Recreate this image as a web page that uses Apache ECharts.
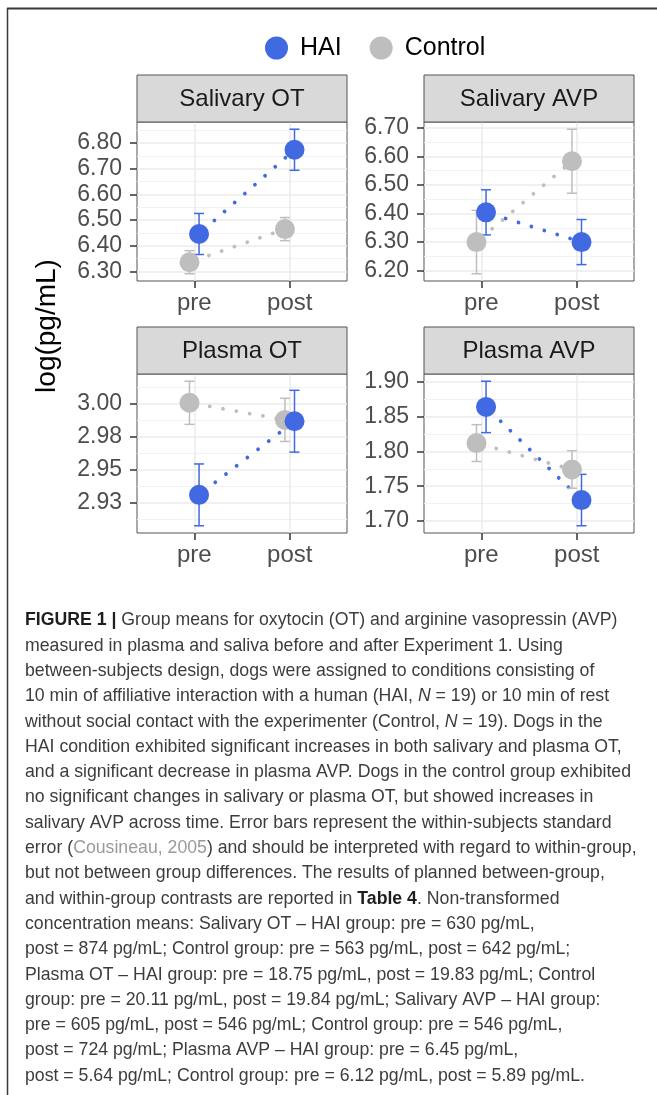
<!DOCTYPE html>
<html><head><meta charset="utf-8">
<script src="https://cdn.jsdelivr.net/npm/echarts@6/dist/echarts.min.js"></script>
<style>html,body{margin:0;padding:0;background:#fff;}#c{width:657px;height:1095px;}</style>
</head><body><div id="c"></div>
<script>
// ---- data ----
const categories = ['pre', 'post'];
const panelNames = ['Salivary OT', 'Salivary AVP', 'Plasma OT', 'Plasma AVP'];
const groupNames = ['HAI', 'Control'];
const haiMean = [[6.446, 6.774], [6.404, 6.300], [2.931, 2.987], [1.864, 1.730]];
const haiSE   = [[0.080, 0.080], [0.079, 0.079], [0.0235, 0.0235], [0.037, 0.037]];
const ctlMean = [[6.336, 6.465], [6.300, 6.583], [3.001, 2.988], [1.812, 1.774]];
const ctlSE   = [[0.045, 0.045], [0.111, 0.112], [0.0164, 0.0164], [0.0265, 0.027]];
const yTicks = [
  [6.3, 6.4, 6.5, 6.6, 6.7, 6.8],
  [6.2, 6.3, 6.4, 6.5, 6.6, 6.7],
  [2.925, 2.95, 2.975, 3.0],
  [1.70, 1.75, 1.80, 1.85, 1.90]
];
const yTickLabels = [
  ['6.30', '6.40', '6.50', '6.60', '6.70', '6.80'],
  ['6.20', '6.30', '6.40', '6.50', '6.60', '6.70'],
  ['2.93', '2.95', '2.98', '3.00'],
  ['1.70', '1.75', '1.80', '1.85', '1.90']
];
const yTitle = 'log(pg/mL)';
const captionLines = [
  '{b|FIGURE 1 |} Group means for oxytocin (OT) and arginine vasopressin (AVP)',
  'measured in plasma and saliva before and after Experiment 1. Using',
  'between-subjects design, dogs were assigned to conditions consisting of',
  '10 min of affiliative interaction with a human (HAI, {i|N} = 19) or 10 min of rest',
  'without social contact with the experimenter (Control, {i|N} = 19). Dogs in the',
  'HAI condition exhibited significant increases in both salivary and plasma OT,',
  'and a significant decrease in plasma AVP. Dogs in the control group exhibited',
  'no significant changes in salivary or plasma OT, but showed increases in',
  'salivary AVP across time. Error bars represent the within-subjects standard',
  'error ({l|Cousineau, 2005}) and should be interpreted with regard to within-group,',
  'but not between group differences. The results of planned between-group,',
  'and within-group contrasts are reported in {b|Table 4}. Non-transformed',
  'concentration means: Salivary OT – HAI group: pre = 630 pg/mL,',
  'post = 874 pg/mL; Control group: pre = 563 pg/mL, post = 642 pg/mL;',
  'Plasma OT – HAI group: pre = 18.75 pg/mL, post = 19.83 pg/mL; Control',
  'group: pre = 20.11 pg/mL, post = 19.84 pg/mL; Salivary AVP – HAI group:',
  'pre = 605 pg/mL, post = 546 pg/mL; Control group: pre = 546 pg/mL,',
  'post = 724 pg/mL; Plasma AVP – HAI group: pre = 6.45 pg/mL,',
  'post = 5.64 pg/mL; Control group: pre = 6.12 pg/mL, post = 5.89 pg/mL.'
];

// ---- layout / style ----
const FONT = '"Liberation Sans", Arial, Helvetica, sans-serif';
const BLUE = '#4169E1', GREY = '#BEBEBE';
const gridPos = [{left:137, top:122}, {left:424, top:122}, {left:137, top:374}, {left:424, top:374}];
const W = 210, H = 159, STRIP = 47;
const CAP = 17.7;
const groups = [
  {name: 'Control', mean: ctlMean, se: ctlSE, color: GREY, dodge: -0.05},
  {name: 'HAI', mean: haiMean, se: haiSE, color: BLUE, dodge: 0.05}
];

function extentOf(i) {
  let lo = Infinity, hi = -Infinity;
  groups.forEach(g => g.mean[i].forEach((m, k) => {
    lo = Math.min(lo, m - g.se[i][k]); hi = Math.max(hi, m + g.se[i][k]);
  }));
  const pad = (hi - lo) * 0.05;
  return [lo - pad, hi + pad];
}
function minorsOf(i, ext) {
  const t = yTicks[i], step = t[1] - t[0], out = [];
  for (let v = t[0] - step / 2; v <= ext[1]; v += step) if (v >= ext[0]) out.push(v);
  return out;
}

const grid = [], xAxis = [], yAxis = [], series = [], graphic = [];
panelNames.forEach((name, i) => {
  const p = gridPos[i];
  const ext = extentOf(i);
  grid.push({left: p.left, top: p.top, width: W, height: H, show: true,
    borderColor: '#555', borderWidth: 1, backgroundColor: '#fff'});
  xAxis.push({type: 'value', gridIndex: i, min: 0.4, max: 2.6,
    axisLine: {show: false},
    axisTick: {show: true, customValues: [1, 2], length: 7, lineStyle: {color: '#333', width: 1.5}},
    axisLabel: {show: true, customValues: [1, 2], margin: 10, fontSize: 24, color: '#4d4d4d', fontFamily: FONT,
      formatter: v => categories[Math.round(v) - 1]},
    splitLine: {show: true, lineStyle: {color: '#ebebeb', width: 1.5}}
  });
  // minor grid axis
  yAxis.push({type: 'value', gridIndex: i, min: ext[0], max: ext[1], position: 'left',
    axisLine: {show: false}, axisLabel: {show: false},
    axisTick: {show: false, customValues: minorsOf(i, ext)},
    splitLine: {show: true, lineStyle: {color: '#f2f2f2', width: 1}}
  });
  // major axis
  yAxis.push({type: 'value', gridIndex: i, min: ext[0], max: ext[1], position: 'left',
    axisLine: {show: false},
    axisTick: {show: true, customValues: yTicks[i], length: 7, lineStyle: {color: '#333', width: 1.5}},
    axisLabel: {show: true, customValues: yTicks[i], margin: 15, fontSize: 23, color: '#4d4d4d', fontFamily: FONT,
      formatter: v => {
        const k = yTicks[i].findIndex(t => Math.abs(t - v) < 1e-9);
        return k >= 0 ? yTickLabels[i][k] : '';
      }},
    splitLine: {show: true, lineStyle: {color: '#ebebeb', width: 1.5}}
  });
  const yIdx = 2 * i + 1;
  groups.forEach(g => {
    const pts = categories.map((c, k) => [k + 1 + g.dodge, g.mean[i][k]]);
    series.push({type: 'line', name: g.name, xAxisIndex: i, yAxisIndex: yIdx, data: pts,
      symbol: 'none', silent: true, z: 2, animation: false,
      itemStyle: {color: g.color},
      lineStyle: {color: g.color, width: 3.8, type: [0.01, 13.5], cap: 'round', dashOffset: -7}
    });
  });
  groups.forEach(g => {
    const bars = categories.map((c, k) => [k + 1 + g.dodge, g.mean[i][k] - g.se[i][k], g.mean[i][k] + g.se[i][k]]);
    series.push({type: 'custom', name: g.name, xAxisIndex: i, yAxisIndex: yIdx, data: bars,
      silent: true, z: 3, animation: false, itemStyle: {color: g.color},
      encode: {x: 0, y: [1, 2]},
      renderItem: (params, api) => {
        const x = api.value(0);
        const a = api.coord([x, api.value(1)]), b = api.coord([x, api.value(2)]);
        const hw = 5;
        const st = {stroke: g.color, lineWidth: 1.5};
        return {type: 'group', children: [
          {type: 'line', shape: {x1: a[0], y1: a[1], x2: b[0], y2: b[1]}, style: st},
          {type: 'line', shape: {x1: a[0] - hw, y1: a[1], x2: a[0] + hw, y2: a[1]}, style: st},
          {type: 'line', shape: {x1: b[0] - hw, y1: b[1], x2: b[0] + hw, y2: b[1]}, style: st}
        ]};
      }
    });
  });
  groups.forEach(g => {
    const pts = categories.map((c, k) => [k + 1 + g.dodge, g.mean[i][k]]);
    series.push({type: 'scatter', name: g.name, xAxisIndex: i, yAxisIndex: yIdx, data: pts,
      symbol: 'circle', symbolSize: 20, silent: true, z: 4, animation: false,
      itemStyle: {color: g.color, opacity: 1}
    });
  });
  // strip
  graphic.push({type: 'rect', shape: {x: p.left, y: p.top - STRIP, width: W, height: STRIP},
    style: {fill: '#d9d9d9', stroke: '#555', lineWidth: 1}, z: 10});
  graphic.push({type: 'text', x: p.left + W / 2, y: p.top - STRIP / 2 + 1,
    style: {text: name, font: '24px ' + FONT, fill: '#1a1a1a', align: 'center', verticalAlign: 'middle'}, z: 11});
});

// y title
graphic.push({type: 'text', x: 47, y: 326, rotation: Math.PI / 2,
  style: {text: yTitle, font: '28px ' + FONT, fill: '#000', align: 'center', verticalAlign: 'middle'}});
// frame
graphic.push({type: 'line', shape: {x1: 7, y1: 8.5, x2: 657, y2: 8.5}, style: {stroke: '#3a3a3a', lineWidth: 2}});
graphic.push({type: 'line', shape: {x1: 7.5, y1: 8, x2: 7.5, y2: 1095}, style: {stroke: '#3a3a3a', lineWidth: 1.5}});
// caption
captionLines.forEach((t, k) => {
  graphic.push({type: 'text', x: 25, y: 620.5 + k * 25.3,
    style: {text: t, font: CAP + 'px ' + FONT, fill: '#3c3c3c', align: 'left', verticalAlign: 'middle',
      rich: {
        b: {fontWeight: 'bold', fontSize: CAP, fontFamily: FONT, fill: '#1e1e1e'},
        i: {fontStyle: 'italic', fontSize: CAP, fontFamily: FONT, fill: '#3c3c3c'},
        l: {fontSize: CAP, fontFamily: FONT, fill: '#9a9a9a'}
      }}});
});

const chart = echarts.init(document.getElementById('c'), null, {renderer: 'canvas'});
chart.setOption({
  animation: false,
  backgroundColor: '#fff',
  legend: {data: groupNames, icon: 'circle', itemWidth: 23, itemHeight: 23, left: 260, top: 30.5, itemGap: 28,
    selectedMode: false,
    textStyle: {fontSize: 25, color: '#000', fontFamily: FONT, padding: [0, 0, 0, 7]}},
  grid, xAxis, yAxis, series, graphic
});
</script></body></html>
